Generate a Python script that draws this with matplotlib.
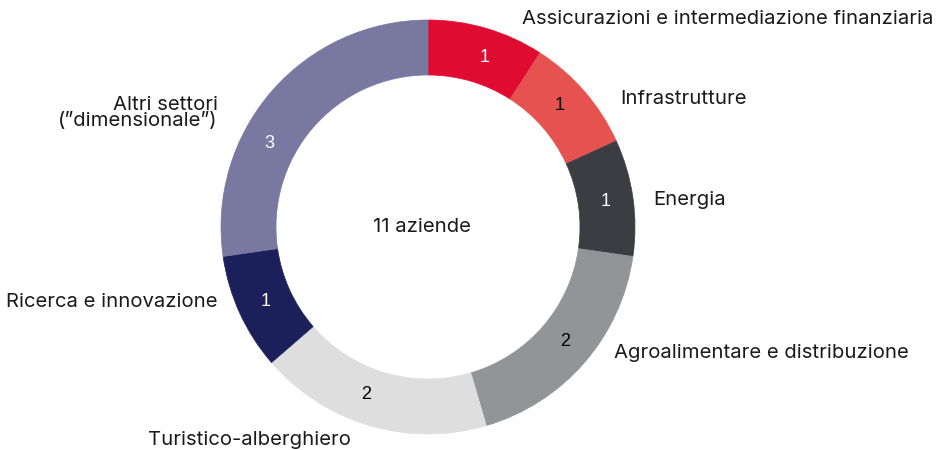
import matplotlib
matplotlib.use("Agg")
import matplotlib.pyplot as plt
import numpy as np

categories = ["Assicurazioni e intermediazione finanziaria", "Infrastrutture", "Energia",
              "Agroalimentare e distribuzione", "Turistico-alberghiero",
              "Ricerca e innovazione", "Altri settori\n(”dimensionale”)"]
values = [1, 1, 1, 2, 2, 1, 3]
colors = ["#E00B30", "#E5524F", "#3C3C43", "#939498", "#DEDEDE", "#1C205A", "#7878A0"]
value_text_colors = ["white", "black", "white", "black", "black", "white", "white"]
center_label = "11 aziende"

W, H = 937, 450
fig = plt.figure(figsize=(W / 100, H / 100), dpi=100)
ax = fig.add_axes([0, 0, 1, 1])

cx, cy, R = 428, 450 - 227, 207
total = sum(values)
wedges, texts, autotexts = ax.pie(
    values, colors=colors, startangle=90, counterclock=False,
    center=(cx, cy), radius=R, frame=True,
    wedgeprops=dict(width=55, edgecolor="none", linewidth=0),
    autopct=lambda p: f"{round(p * total / 100)}", pctdistance=0.865,
    textprops=dict(fontsize=13, family="Liberation Sans"))
for w, c in zip(wedges, colors):
    w.set_edgecolor(c)
    w.set_linewidth(0.5)
for t, c in zip(autotexts, value_text_colors):
    t.set_color(c)
# small angular nudge of the value labels toward their reference placement
nudges = [-2, 2, 0, 1, -4, 0, 13]
for t, w, d in zip(autotexts, wedges, nudges):
    ang = np.deg2rad((w.theta1 + w.theta2) / 2 + d)
    r = 0.865 * R
    t.set_position((cx + r * np.cos(ang), cy + r * np.sin(ang)))

ax.set_xlim(0, W)
ax.set_ylim(0, H)
ax.set_aspect("equal")
ax.axis("off")

font = "Inter"
fs = 14.6
# (x, y_img, ha) per category label
label_pos = [(522, 19, "left"), (620, 99, "left"), (653, 200, "left"),
             (614, 353, "left"), (249, 440, "center"), (218, 302, "right"),
             (218, 113, "right")]
for name, (x, y, ha) in zip(categories, label_pos):
    ax.text(x, H - y, name, ha=ha, va="center", fontsize=fs, family=font,
            color="#1a1a1a", linespacing=0.92, multialignment="right")

ax.text(422, H - 227, center_label, ha="center", va="center", fontsize=fs,
        family=font, color="#1a1a1a")

fig.savefig("out.png", dpi=100)
